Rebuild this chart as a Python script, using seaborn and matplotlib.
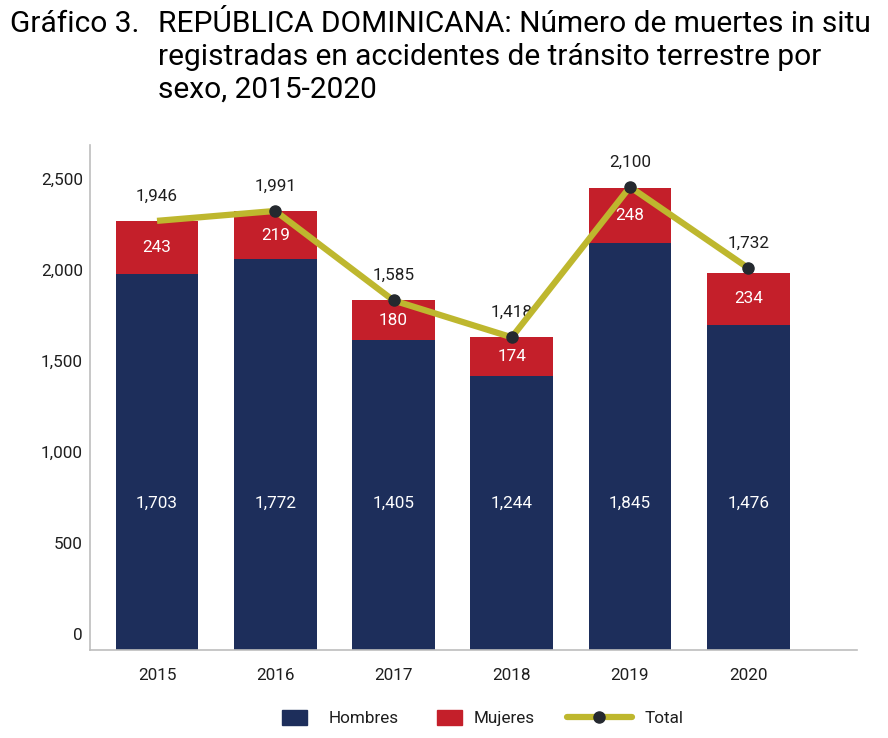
import numpy as np
import matplotlib.pyplot as plt
import seaborn as sns
from matplotlib.patches import Patch
from matplotlib.lines import Line2D

# datos del gráfico
years = ["2015", "2016", "2017", "2018", "2019", "2020"]
hombres = [1703, 1772, 1405, 1244, 1845, 1476]
mujeres = [243, 219, 180, 174, 248, 234]
total = [1946, 1991, 1585, 1418, 2100, 1732]
axis_values = [0, 500, 1000, 1500, 2000, 2500]
axis_labels = ["0", "500", "1,000", "1,500", "2,000", "2,500"]
title_lines = ["REPÚBLICA DOMINICANA: Número de muertes in situ",
               "registradas en accidentes de tránsito terrestre por",
               "sexo, 2015-2020"]

navy = "#1D2E5B"
red = "#C41F2A"
olive = "#BEB72E"
dot = "#25292F"
txt = "#1E1E1E"
fs = 12.3

sns.set_theme(style="white")
plt.rcParams["font.family"] = ["Roboto", "DejaVu Sans"]

fig = plt.figure(figsize=(8.88, 7.38), dpi=100)
W, H = 888, 738
ax = fig.add_axes([90 / W, 1 - 650 / H, (857 - 90) / W, (650 - 145) / H])

sns.barplot(x=years, y=hombres, color=navy, width=0.7, saturation=1,
            errorbar=None, ax=ax, linewidth=0)
sns.barplot(x=years, y=mujeres, bottom=hombres, color=red, width=0.7,
            saturation=1, errorbar=None, ax=ax, linewidth=0)
ax.plot(np.arange(len(years)), total, color=olive, lw=4.5, marker="o",
        markevery=list(range(1, len(years))), markersize=8,
        markerfacecolor=dot, markeredgecolor=dot, zorder=5,
        solid_capstyle="butt")

ax.set_xlim(-0.567, 5.92)
ax.set_ylim(0, 2290)
ax.set_yticks([])
ax.set_xlabel("")
ax.set_ylabel("")
ax.tick_params(axis="x", length=0, pad=13, labelsize=fs, labelcolor=txt)
for s in ["top", "right"]:
    ax.spines[s].set_visible(False)
for s in ["left", "bottom"]:
    ax.spines[s].set_color("#BDBDBD")
    ax.spines[s].set_linewidth(1.2)

# eje de valores (escala propia, como en el original)
ax2 = ax.twinx()
ax2.set_ylim(-88, 2687)
ax2.yaxis.tick_left()
ax2.set_yticks(axis_values)
ax2.set_yticklabels(axis_labels)
ax2.tick_params(axis="y", length=0, pad=5, labelsize=fs, labelcolor=txt)
for s in ax2.spines.values():
    s.set_visible(False)
ax2.grid(False)

for i in range(len(years)):
    ax.text(i, 0.291, f"{hombres[i]:,}", transform=ax.get_xaxis_transform(),
            ha="center", va="center", color="white", fontsize=fs)
    ax.text(i, hombres[i] + mujeres[i] / 2, f"{mujeres[i]:,}", ha="center",
            va="center", color="white", fontsize=fs)
    ax.annotate(f"{total[i]:,}", (i, total[i]), xytext=(0, 18),
                textcoords="offset points", ha="center", va="center",
                color=txt, fontsize=fs)

# título
fig.text(10 / W, 1 - 32 / H, "Gráfico 3.", fontsize=21.5, color="black",
         va="baseline")
for k, line in enumerate(title_lines):
    fig.text(158 / W, 1 - (32 + 33 * k) / H, line, fontsize=21.5,
             color="black", va="baseline")

# leyenda
y_leg = 1 - 718 / H
common = dict(frameon=False, borderpad=0, borderaxespad=0, fontsize=fs,
              loc="center left", handleheight=1.0, labelcolor=txt)
fig.legend(handles=[Patch(color=navy, label="Hombres")],
           bbox_to_anchor=(282 / W, y_leg), handlelength=1.45,
           handletextpad=1.3, **common)
fig.legend(handles=[Patch(color=red, label="Mujeres")],
           bbox_to_anchor=(437 / W, y_leg), handlelength=1.45,
           handletextpad=0.7, **common)
fig.legend(handles=[Line2D([], [], color=olive, lw=4.5, marker="o",
                           markersize=8, markerfacecolor=dot,
                           markeredgecolor=dot, label="Total")],
           bbox_to_anchor=(567 / W, y_leg), handlelength=3.8,
           handletextpad=0.75, **common)

fig.savefig("out.png", dpi=100)
